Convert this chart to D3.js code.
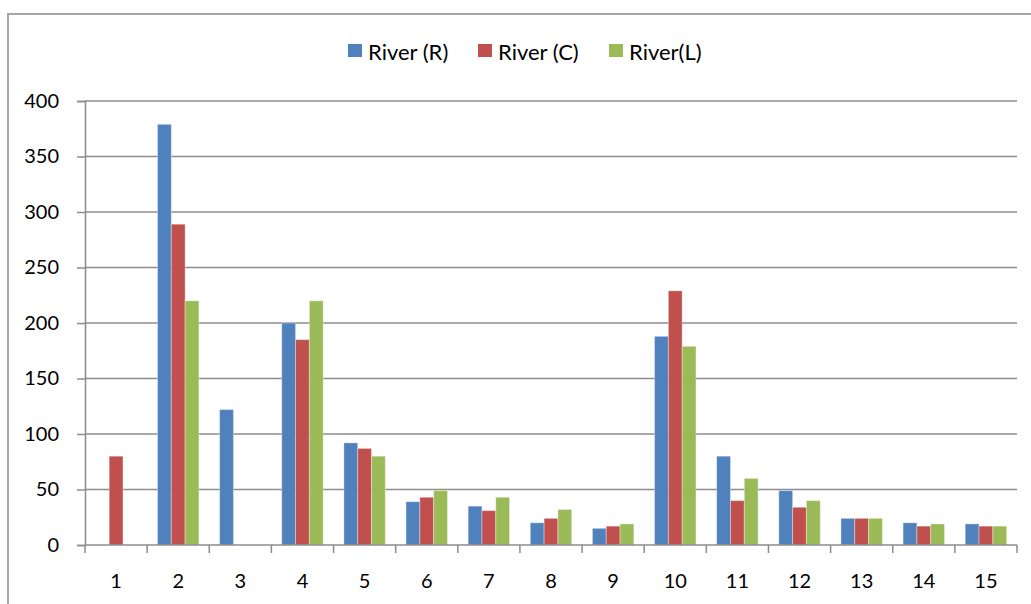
<!DOCTYPE html>
<html>
<head>
<meta charset="utf-8">
<script src="https://cdn.jsdelivr.net/npm/d3@7/dist/d3.min.js"></script>
<style>
  html, body { margin: 0; padding: 0; background: #fff; }
  svg { display: block; }
  text { font-family: Lato, "Open Sans", sans-serif; fill: #000; }
</style>
</head>
<body>
<svg id="chart" width="1031" height="604"></svg>
<script>
// Sample sites along the x axis
const categories = ["1","2","3","4","5","6","7","8","9","10","11","12","13","14","15"];

// Series names and colours
const seriesNames = ["River (R)", "River (C)", "River(L)"];
const seriesColors = ["#4F81BD", "#C0504D", "#9BBB59"];

// Values per series (null = no bar)
const riverR = [null, 379, 122, 200, 92, 39, 35, 20, 15, 188, 80, 49, 24, 20, 19];
const riverC = [80, 289, null, 185, 87, 43, 31, 24, 17, 229, 40, 34, 24, 17, 17];
const riverL = [null, 220, null, 220, 80, 49, 43, 32, 19, 179, 60, 40, 24, 19, 17];

const yTicks = [0, 50, 100, 150, 200, 250, 300, 350, 400];

const seriesValues = [riverR, riverC, riverL];

const svg = d3.select("#chart");

// Outer chart frame (top and left edges visible)
svg.append("path")
  .attr("d", "M8,604 L8,14 L1031,14")
  .attr("fill", "none")
  .attr("stroke", "#a6a6a6")
  .attr("stroke-width", 2);

const plot = { left: 85, right: 1017, top: 101, bottom: 545 };

const x0 = d3.scaleBand()
  .domain(categories)
  .range([plot.left, plot.right])
  .paddingInner(0)
  .paddingOuter(0);

const x1 = d3.scaleBand()
  .domain(d3.range(seriesNames.length))
  .range([0, x0.bandwidth()])
  .paddingInner(0)
  .paddingOuter(0.75);

const y = d3.scaleLinear()
  .domain([0, 400])
  .range([plot.bottom, plot.top]);

// Horizontal gridlines
svg.append("g")
  .selectAll("line")
  .data(yTicks.filter(t => t > 0))
  .join("line")
  .attr("x1", plot.left)
  .attr("x2", plot.right)
  .attr("y1", d => y(d))
  .attr("y2", d => y(d))
  .attr("stroke", "#8c8c8c")
  .attr("stroke-width", 1.5);

// Y axis
const yAxis = svg.append("g")
  .attr("transform", `translate(${plot.left},0)`)
  .call(d3.axisLeft(y).tickValues(yTicks).tickSize(8).tickPadding(18));
yAxis.select(".domain").attr("stroke", "#8c8c8c").attr("stroke-width", 1.5);
yAxis.selectAll(".tick line").attr("stroke", "#8c8c8c").attr("stroke-width", 1.5);
yAxis.selectAll(".tick text")
  .style("font-family", "Lato, 'Open Sans', sans-serif")
  .style("font-size", "20px")
  .attr("fill", "#000");

// Bars
const groups = svg.append("g")
  .selectAll("g")
  .data(categories)
  .join("g")
  .attr("transform", d => `translate(${x0(d)},0)`);

groups.selectAll("rect")
  .data((d, i) => seriesValues.map((vals, s) => ({ s, v: vals[i] })).filter(e => e.v != null))
  .join("rect")
  .attr("x", d => x1(d.s))
  .attr("width", x1.bandwidth())
  .attr("y", d => y(d.v))
  .attr("height", d => y(0) - y(d.v))
  .attr("fill", d => seriesColors[d.s])
  .attr("stroke", "rgba(255,255,255,0.35)")
  .attr("stroke-width", 1);

// X axis with ticks at category boundaries
const xAxisG = svg.append("g").attr("transform", `translate(0,${plot.bottom})`);
xAxisG.append("line")
  .attr("x1", plot.left).attr("x2", plot.right)
  .attr("y1", 0).attr("y2", 0)
  .attr("stroke", "#8c8c8c").attr("stroke-width", 1.5);
xAxisG.selectAll("line.tk")
  .data(categories.map(c => x0(c)).concat([plot.right]))
  .join("line")
  .attr("class", "tk")
  .attr("x1", d => d).attr("x2", d => d)
  .attr("y1", 0).attr("y2", 8)
  .attr("stroke", "#8c8c8c").attr("stroke-width", 1.5);
xAxisG.selectAll("text")
  .data(categories)
  .join("text")
  .attr("x", d => x0(d) + x0.bandwidth() / 2)
  .attr("y", 35)
  .attr("text-anchor", "middle")
  .attr("dominant-baseline", "central")
  .style("font-size", "20px")
  .text(d => d);

// Legend
const legendX = [348, 478, 609];
const legend = svg.append("g")
  .selectAll("g")
  .data(seriesNames)
  .join("g")
  .attr("transform", (d, i) => `translate(${legendX[i]},44)`);
legend.append("rect")
  .attr("width", 14).attr("height", 13)
  .attr("fill", (d, i) => seriesColors[i]);
legend.append("text")
  .attr("x", 20)
  .attr("y", 7)
  .attr("dominant-baseline", "central")
  .style("font-size", "22px")
  .text(d => d);
</script>
</body>
</html>
